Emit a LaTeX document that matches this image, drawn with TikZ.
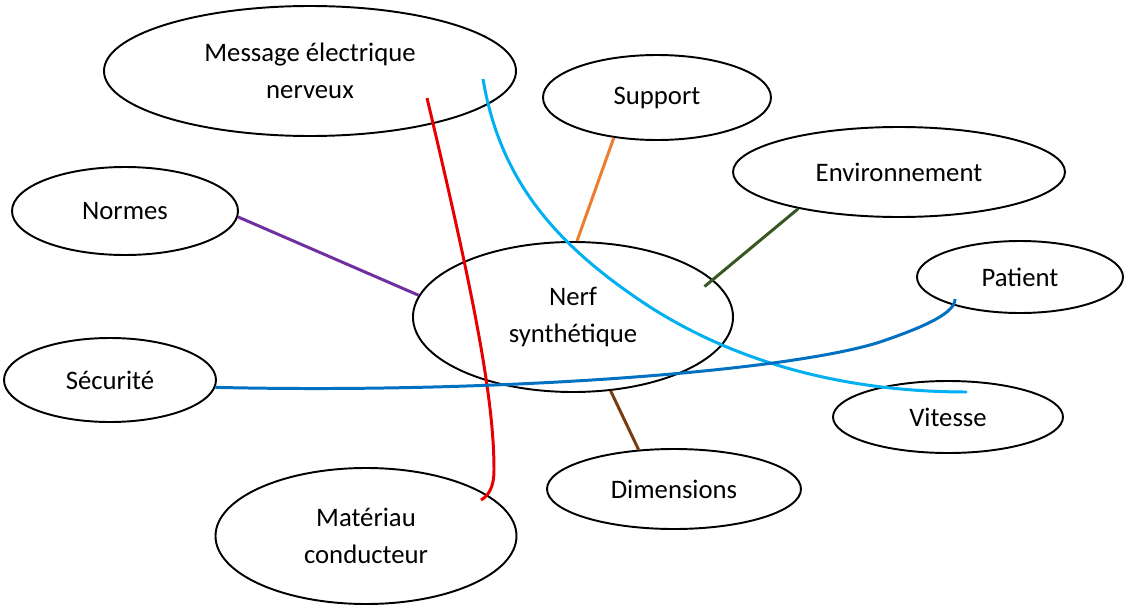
\documentclass[tikz,border=0pt]{standalone}
\usepackage{fontspec}
\setmainfont{Carlito}
\usepackage{tikz}
\usetikzlibrary{shapes.geometric}
\usepackage{xcolor}
\definecolor{lienrouge}{RGB}{232, 0, 0}
\definecolor{lienciel}{RGB}{0, 176, 240}
\definecolor{lienbleu}{RGB}{0, 112, 192}
\definecolor{lienviolet}{RGB}{112, 48, 160}
\definecolor{lienorange}{RGB}{237, 125, 49}
\definecolor{lienvert}{RGB}{56, 87, 35}
\definecolor{lienbrun}{RGB}{120, 60, 15}

\tikzset{
    bulle/.style={draw, ellipse, line width=1.1pt, inner sep=0pt, align=center,
        font=\fontsize{15.2}{21}\selectfont},
    lien/.style={line width=1.7pt}
}

\begin{document}
\begin{tikzpicture}
    \useasboundingbox (0,0) rectangle (22.62,-12.18);

    \node[bulle, minimum width=8.24cm, minimum height=2.60cm] (message) at (6.20,-1.42) {Message électrique\\nerveux};
    \node[bulle, minimum width=4.56cm, minimum height=1.70cm] (support) at (13.14,-1.95) {Support};
    \node[bulle, minimum width=6.64cm, minimum height=1.80cm] (environnement) at (17.98,-3.44) {Environnement};
    \node[bulle, minimum width=4.52cm, minimum height=1.76cm] (normes) at (2.50,-4.22) {Normes};
    \node[bulle, minimum width=4.12cm, minimum height=1.44cm] (patient) at (20.40,-5.54) {Patient};
    \node[bulle, minimum width=6.40cm, minimum height=3.00cm] (nerf) at (11.46,-6.34) {Nerf\\synthétique};
    \node[bulle, minimum width=4.24cm, minimum height=1.68cm] (securite) at (2.20,-7.60) {Sécurité};
    \node[bulle, minimum width=4.60cm, minimum height=1.44cm] (vitesse) at (18.96,-8.34) {Vitesse};
    \node[bulle, minimum width=5.08cm, minimum height=1.60cm] (dimensions) at (13.48,-9.78) {Dimensions};
    \node[bulle, minimum width=6.02cm, minimum height=2.72cm] (materiau) at (7.32,-10.72) {Matériau\\conducteur};

    % extremites libres des courbes
    \coordinate (rougeA) at (8.54,-1.96);
    \coordinate (rougeB) at (9.62,-10.00);
    \coordinate (cielA) at (9.66,-1.58);
    \coordinate (cielB) at (19.34,-7.84);
    \coordinate (bleuB) at (19.10,-5.98);

    % liens droits
    \draw[lien, lienviolet] (normes.-3) -- (nerf.172);
    \draw[lien, lienorange] (support.223) -- (nerf.87);
    \draw[lien, lienvert, shorten >=-0.22cm] (environnement.200) -- (nerf.15);
    \draw[lien, lienbrun] (nerf.-63) -- (dimensions.132);

    % courbes
    \draw[lien, lienrouge] (rougeA) .. controls (9.50,-6.00) and (9.88,-8.00) .. (9.88,-9.40)
        .. controls (9.88,-9.76) and (9.76,-9.92) .. (rougeB);
    \draw[lien, lienciel] (cielA) .. controls (10.00,-3.60) and (11.10,-4.90) .. (13.00,-6.14)
        .. controls (15.20,-7.54) and (17.60,-7.84) .. (cielB);
    \draw[lien, lienbleu] (securite.-4) .. controls (10.00,-7.88) and (15.80,-7.42) .. (17.60,-6.84)
        .. controls (18.60,-6.50) and (19.10,-6.24) .. (bleuB);
\end{tikzpicture}
\end{document}
